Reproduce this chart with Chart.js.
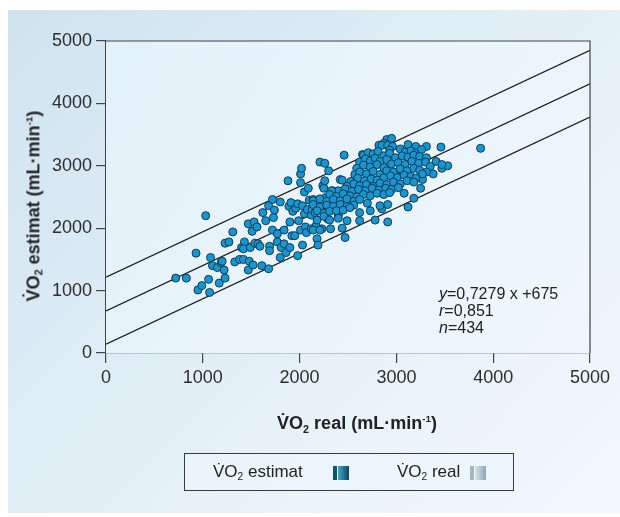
<!DOCTYPE html>
<html>
<head>
<meta charset="utf-8">
<script src="https://cdn.jsdelivr.net/npm/chart.js@4.4.1/dist/chart.umd.min.js"></script>
<style>
  html, body { margin: 0; padding: 0; background: #fff; }
  #wrap { position: relative; width: 620px; height: 517px; overflow: hidden; font-family: "Liberation Sans", Arial, sans-serif; color: #222; }
  #panel { position: absolute; left: 8px; top: 10px; width: 612px; height: 503px;
    background: linear-gradient(135deg, #cfe3ef 0%, #e2eff7 50%, #f3f8fc 100%); }
  #chart { position: absolute; left: 0; top: 0; }
  .title { position: absolute; white-space: nowrap; font-weight: bold; font-size: 18px; color: #222; }
  .ytitle { left: 34px; top: 206px; transform: translate(-50%, -50%) rotate(-90deg); }
  .xtitle { left: 357px; top: 424px; transform: translate(-50%, -50%); }
  .title sub { font-size: 60%; vertical-align: -0.3em; }
  .title sup { font-size: 55%; vertical-align: 0.7em; }
  .legend { position: absolute; left: 184px; top: 453px; width: 328px; height: 36px;
    border: 1.5px solid #3a3a3a; background: rgba(236, 246, 251, 0.6); }
  .legend span.lab { position: absolute; top: 8px; font-size: 17px; color: #222; white-space: nowrap; }
  .legend sub { font-size: 60%; vertical-align: -0.3em; }
  .sw { position: absolute; top: 12px; width: 16px; height: 14px; }
  .sw1 { left: 148px; background: linear-gradient(90deg, #0c5474 0 22%, #e8f4fa 22% 32%, #3da8cc 32%, #0a4863 100%); }
  .sw2 { left: 285px; background: linear-gradient(90deg, #a3b6c3 0 22%, #f2f7fa 22% 32%, #d8e3ea 32%, #8fa5b4 100%); }
</style>
</head>
<body>
<div id="wrap">
  <div id="panel"></div>
  <canvas id="chart" width="620" height="517"></canvas>
  <div class="title ytitle">V&#775;O<sub>2</sub> estimat (mL·min<sup>-1</sup>)</div>
  <div class="title xtitle">V&#775;O<sub>2</sub> real (mL·min<sup>-1</sup>)</div>
  <div class="legend">
    <span class="lab" style="left:28px">V&#775;O<sub>2</sub> estimat</span>
    <div class="sw sw1"></div>
    <span class="lab" style="left:212px">V&#775;O<sub>2</sub> real</span>
    <div class="sw sw2"></div>
  </div>
</div>
<script>
// VO2 real (x) and VO2 estimat (y)
const realX = [
  720, 830, 930, 950, 990, 1030, 1060, 1070, 1080, 1100, 1150, 1170, 1190, 1200, 1220, 1230, 1230, 1270, 1310, 1330,
  1380, 1420, 1400, 1430, 1420, 1470, 1470, 1480, 1490, 1510, 1520, 1530, 1540, 1560, 1570, 1590, 1610, 1620, 1650, 1680,
  1690, 1690, 1680, 1720, 1740, 1730, 1720, 1770, 1770, 1800, 1800, 1810, 1840, 1840, 1860, 1880, 1890, 1900, 1900, 1920,
  1910, 1930, 1950, 1960, 1980, 1980, 1990, 2010, 2010, 2020, 2030, 2010, 2030, 2050, 2050, 2060, 2070, 2080, 2090, 2100,
  2120, 2120, 2130, 2140, 2160, 2170, 2180, 2190, 2210, 2230, 2240, 2260, 2260, 2270, 2300, 2290, 2320, 2340, 2370, 2400,
  2420, 2440, 2460, 2470, 2490, 2530, 2620, 2650, 2780, 2910, 2850, 2910, 3120, 3180, 3250, 3380, 3410, 3460, 3470, 3530,
  3870, 3080, 2900, 2950,
  2820, 2870, 2850, 2910, 2960, 3120, 3200, 3310,
  2660, 2710, 2760, 2810, 2870, 2930, 2930, 3040, 3090, 3150, 3210, 3260,
  2620, 2680, 2730, 2780, 2830, 2900, 2990, 3060, 3120, 3180, 3240, 3310, 3470, 3270,
  2590, 2660, 2730, 2800, 2870, 2950, 3020, 3090, 3160, 3230, 3300, 3350,
  2570, 2620, 2690, 2760, 2830, 2900, 2970, 3040, 3110, 3180, 3240, 3310,
  2530, 2600, 2670, 2740, 2800, 2870, 2940, 3010, 3080, 3150, 3200, 3270,
  2440, 2490, 2560, 2620, 2690, 2760, 2830, 2900, 2970, 3040, 3110, 3180,
  2400, 2470, 2540, 2610, 2680, 2750, 2820, 2890, 2950, 3020,
  2250, 2330, 2310, 2380, 2450, 2520, 2590, 2660, 2730, 2800, 2870, 2930,
  2140, 2210, 2280, 2350, 2420, 2490, 2560, 2620, 2700, 2730, 2830,
  2140, 2210, 2280, 2350, 2420, 2490, 2560, 2620,
  2180, 2250, 2310, 2380, 2450, 2520,
  2180, 2250, 2310, 2400,
  2140, 2210
];
const estimY = [
  1200, 1200, 1600, 1010, 1080, 2200, 1180, 970, 1530, 1400, 1370, 1120, 1450, 1470, 1330, 1200, 1760, 1780, 1940, 1460,
  1500, 1500, 1690, 1780, 1670, 2070, 1330, 1470, 1690, 1950, 1410, 2100, 1760, 2020, 1750, 1710, 1400, 2250, 2120, 1350,
  1710, 1640, 2360, 2460, 2290, 2170, 1970, 1910, 1780, 2420, 1530, 1690, 1750, 1970, 1610, 2760, 2350, 2100, 1690, 1880,
  2410, 2270, 1880, 2320, 2390, 1560, 2120, 2870, 2730, 2960, 1730, 1970, 2360, 2580, 2230, 2020, 1930, 2300, 2640, 2450,
  2210, 1990, 2300, 2460, 2250, 2040, 1830, 1730, 3060, 1990, 2680, 3040, 2760, 2490, 2920, 2150, 1990, 2600, 2370, 2210,
  2780, 2000, 3170, 1850, 2120, 2560, 2120, 3180, 2130, 2100, 2310, 2380, 2340, 2480, 2640, 2870, 3070, 3300, 2960, 3000,
  3280, 2560, 3420, 3440,
  3330, 3360, 3330, 3330, 3310, 3340, 3310, 3310,
  3170, 3210, 3190, 3230, 3160, 3250, 3200, 3270, 3220, 3240, 3210, 3260,
  3060, 3110, 3080, 3120, 3070, 3100, 3130, 3160, 3140, 3170, 3150, 3130, 3020, 2780,
  2960, 3010, 2980, 3020, 2970, 3030, 3050, 3020, 3070, 3040, 3060, 2990,
  2860, 2900, 2870, 2910, 2860, 2920, 2900, 2950, 2920, 2960, 2930, 2900,
  2750, 2800, 2760, 2790, 2770, 2810, 2840, 2810, 2850, 2830, 2800, 2870,
  2770, 2670, 2710, 2680, 2700, 2670, 2720, 2700, 2740, 2710, 2760, 2740,
  2600, 2630, 2590, 2620, 2600, 2640, 2610, 2640, 2620, 2650,
  2640, 2600, 2540, 2510, 2550, 2520, 2500, 2540, 2520, 2560, 2540, 2570,
  2440, 2470, 2430, 2460, 2440, 2470, 2430, 2460, 2400, 2280, 2360,
  2380, 2340, 2370, 2350, 2380, 2350, 2370, 2250,
  2280, 2240, 2270, 2280, 2290, 2330,
  2130, 2190, 2130, 2160,
  1970, 1970
];

// regression line and band edges, endpoints at x = 0 and x = 5000
const lineX = [0, 5000];
const fitY = [675, 4315];
const upperY = [1215, 4850];
const lowerY = [140, 3780];

const statLines = [['y', '=0,7279 x +675'], ['r', '=0,851'], ['n', '=434']];

const points = realX.map((x, i) => ({ x: x, y: estimY[i] }));
const toLine = ys => lineX.map((x, i) => ({ x: x, y: ys[i] }));

const lineStyle = {
  type: 'line',
  borderColor: '#1c1c1c',
  borderWidth: 1.3,
  pointRadius: 0,
  fill: false,
  order: 2
};

const plotBox = {
  id: 'plotBox',
  beforeDatasetsDraw(chart) {
    const { ctx, chartArea: a } = chart;
    ctx.save();
    const g = ctx.createLinearGradient(a.left, a.top, a.right, a.bottom);
    g.addColorStop(0, '#e3f1fa');
    g.addColorStop(1, '#eff7fc');
    ctx.fillStyle = g;
    ctx.fillRect(a.left, a.top, a.right - a.left, a.bottom - a.top);
    ctx.restore();
  },
  afterDraw(chart) {
    const { ctx, chartArea: a } = chart;
    ctx.save();
    ctx.strokeStyle = '#444';
    ctx.lineWidth = 1.2;
    ctx.beginPath();
    ctx.moveTo(a.left, a.top);
    ctx.lineTo(a.right, a.top);
    ctx.lineTo(a.right, a.bottom);
    ctx.stroke();

    // stats text
    ctx.fillStyle = '#222';
    ctx.textBaseline = 'alphabetic';
    statLines.forEach((s, i) => {
      const x0 = 439, y0 = 299 + i * 17;
      ctx.font = 'italic 16px "Liberation Sans", Arial, sans-serif';
      ctx.fillText(s[0], x0, y0);
      const w = ctx.measureText(s[0]).width;
      ctx.font = '16px "Liberation Sans", Arial, sans-serif';
      ctx.fillText(s[1], x0 + w, y0);
    });
    ctx.restore();
  }
};

const axisCommon = {
  type: 'linear',
  min: 0,
  max: 5000,
  ticks: {
    stepSize: 1000,
    color: '#2e2e2e',
    font: { size: 18, family: '"Liberation Sans", Arial, sans-serif' },
    callback: v => String(v)
  },
  grid: { drawOnChartArea: false, tickLength: 10, color: '#444', lineWidth: 1.2 },
  border: { color: '#444', width: 1.2 }
};

new Chart(document.getElementById('chart'), {
  type: 'scatter',
  data: {
    datasets: [
      {
        label: 'VO2',
        data: points,
        backgroundColor: '#1597d6',
        borderColor: '#17394a',
        borderWidth: 1,
        pointRadius: 4,
        order: 1
      },
      Object.assign({ data: toLine(upperY) }, lineStyle),
      Object.assign({ data: toLine(fitY) }, lineStyle),
      Object.assign({ data: toLine(lowerY) }, lineStyle)
    ]
  },
  options: {
    responsive: false,
    animation: false,
    layout: { padding: { top: 41, right: 30, left: 0, bottom: 0 } },
    plugins: { legend: { display: false }, tooltip: { enabled: false } },
    scales: {
      x: Object.assign({}, axisCommon, {
        ticks: Object.assign({}, axisCommon.ticks, { padding: 4, maxRotation: 0 }),
        afterFit(s) { s.height = 164; }
      }),
      y: Object.assign({}, axisCommon, {
        ticks: Object.assign({}, axisCommon.ticks, { padding: 4 }),
        afterFit(s) { s.width = 106; }
      })
    }
  },
  plugins: [plotBox]
});
</script>
</body>
</html>
